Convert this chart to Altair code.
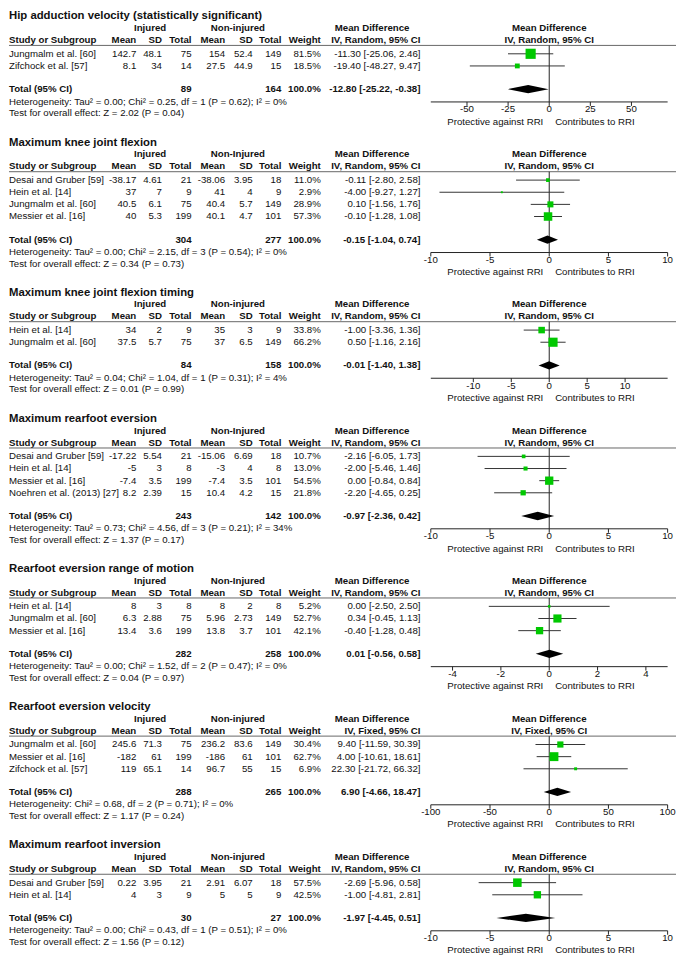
import altair as alt
import pandas as pd

# ---------------- data ----------------
titles = ["Hip adduction velocity (statistically significant)", "Maximum knee joint flexion",
          "Maximum knee joint flexion timing", "Maximum rearfoot eversion",
          "Rearfoot eversion range of motion", "Rearfoot eversion velocity", "Maximum rearfoot inversion"]
group2 = ["Non-injured", "Non-Injured", "Non-injured", "Non-Injured", "Non-Injured", "Non-injured", "Non-injured"]
methods = ["IV, Random, 95% CI"] * 5 + ["IV, Fixed, 95% CI", "IV, Random, 95% CI"]

studies = [
    ["Jungmalm et al. [60]", "Zifchock et al. [57]"],
    ["Desai and Gruber [59]", "Hein et al. [14]", "Jungmalm et al. [60]", "Messier et al. [16]"],
    ["Hein et al. [14]", "Jungmalm et al. [60]"],
    ["Desai and Gruber [59]", "Hein et al. [14]", "Messier et al. [16]", "Noehren et al. (2013) [27]"],
    ["Hein et al. [14]", "Jungmalm et al. [60]", "Messier et al. [16]"],
    ["Jungmalm et al. [60]", "Messier et al. [16]", "Zifchock et al. [57]"],
    ["Desai and Gruber [59]", "Hein et al. [14]"],
]
inj_mean = [[142.7, 8.1], [-38.17, 37, 40.5, 40], [34, 37.5], [-17.22, -5, -7.4, 8.2],
            [8, 6.3, 13.4], [245.6, -182, 119], [0.22, 4]]
inj_sd = [[48.1, 34], [4.61, 7, 6.1, 5.3], [2, 5.7], [5.54, 3, 3.5, 2.39],
          [3, 2.88, 3.6], [71.3, 61, 65.1], [3.95, 3]]
inj_n = [[75, 14], [21, 9, 75, 199], [9, 75], [21, 8, 199, 15], [8, 75, 199], [75, 199, 14], [21, 9]]
non_mean = [[154, 27.5], [-38.06, 41, 40.4, 40.1], [35, 37], [-15.06, -3, -7.4, 10.4],
            [8, 5.96, 13.8], [236.2, -186, 96.7], [2.91, 5]]
non_sd = [[52.4, 44.9], [3.95, 4, 5.7, 4.7], [3, 6.5], [6.69, 4, 3.5, 4.2],
          [2, 2.73, 3.7], [83.6, 61, 55], [6.07, 5]]
non_n = [[149, 15], [18, 9, 149, 101], [9, 149], [18, 8, 101, 15], [8, 149, 101], [149, 101, 15], [18, 9]]
weight = [[81.5, 18.5], [11.0, 2.9, 28.9, 57.3], [33.8, 66.2], [10.7, 13.0, 54.5, 21.8],
          [5.2, 52.7, 42.1], [30.4, 62.7, 6.9], [57.5, 42.5]]
md = [[-11.30, -19.40], [-0.11, -4.00, 0.10, -0.10], [-1.00, 0.50], [-2.16, -2.00, 0.00, -2.20],
      [0.00, 0.34, -0.40], [9.40, 4.00, 22.30], [-2.69, -1.00]]
ci_lo = [[-25.06, -48.27], [-2.80, -9.27, -1.56, -1.28], [-3.36, -1.16], [-6.05, -5.46, -0.84, -4.65],
         [-2.50, -0.45, -1.28], [-11.59, -10.61, -21.72], [-5.96, -4.81]]
ci_hi = [[2.46, 9.47], [2.58, 1.27, 1.76, 1.08], [1.36, 2.16], [1.73, 1.46, 0.84, 0.25],
         [2.50, 1.13, 0.48], [30.39, 18.61, 66.32], [0.58, 2.81]]
tot_inj = [89, 304, 84, 243, 282, 288, 30]
tot_non = [164, 277, 158, 142, 258, 265, 27]
tot_md = [-12.80, -0.15, -0.01, -0.97, 0.01, 6.90, -1.97]
tot_lo = [-25.22, -1.04, -1.40, -2.36, -0.56, -4.66, -4.45]
tot_hi = [-0.38, 0.74, 1.38, 0.42, 0.58, 18.47, 0.51]
heterogeneity = [
    "Heterogeneity: Tau² = 0.00; Chi² = 0.25, df = 1 (P = 0.62); I² = 0%",
    "Heterogeneity: Tau² = 0.00; Chi² = 2.15, df = 3 (P = 0.54); I² = 0%",
    "Heterogeneity: Tau² = 0.04; Chi² = 1.04, df = 1 (P = 0.31); I² = 4%",
    "Heterogeneity: Tau² = 0.73; Chi² = 4.56, df = 3 (P = 0.21); I² = 34%",
    "Heterogeneity: Tau² = 0.00; Chi² = 1.52, df = 2 (P = 0.47); I² = 0%",
    "Heterogeneity: Chi² = 0.68, df = 2 (P = 0.71); I² = 0%",
    "Heterogeneity: Tau² = 0.00; Chi² = 0.43, df = 1 (P = 0.51); I² = 0%",
]
overall = [
    "Test for overall effect: Z = 2.02 (P = 0.04)",
    "Test for overall effect: Z = 0.34 (P = 0.73)",
    "Test for overall effect: Z = 0.01 (P = 0.99)",
    "Test for overall effect: Z = 1.37 (P = 0.17)",
    "Test for overall effect: Z = 0.04 (P = 0.97)",
    "Test for overall effect: Z = 1.17 (P = 0.24)",
    "Test for overall effect: Z = 1.56 (P = 0.12)",
]
axis_ticks = [[-50, -25, 0, 25, 50], [-10, -5, 0, 5, 10], [-10, -5, 0, 5, 10], [-10, -5, 0, 5, 10],
              [-4, -2, 0, 2, 4], [-100, -50, 0, 50, 100], [-10, -5, 0, 5, 10]]
axis_limit = [72, 10, 15.6, 10, 4.9, 100, 10]
header2 = ["Mean", "SD", "Total", "Mean", "SD", "Total", "Weight"]

# ---------------- layout / style ----------------
FONT = "Liberation Sans, Arial, sans-serif"
FS = 9.8
TXT = "#111111"
GREEN = "#00c800"
W = 669
FX = [427.5, 667.5]
COL_X = [129, 155, 185, 219, 247, 276, 316, 417]
H1_X = [143, 232, 368]
TITLE_Y = 6
H1_Y, H2_Y, LINE_Y = TITLE_Y + 12, TITLE_Y + 24, TITLE_Y + 29.5
ROW0, PITCH = TITLE_Y + 38, 12.3
TOTAL_GAP, HET_GAP, TEST_GAP = 23.5, 12.6, 24.2
AXIS_GAP, TICK_LEN, TICKLBL_GAP, PROT_GAP = 13, 4, 20.5, 33
SEC_BASE = 102.8
LAST_H = 116


def fmt_ci(m, l, h):
    return f"{m:.2f} [{l:.2f}, {h:.2f}]"


def section(i, last=False):
    n = len(studies[i])
    h = LAST_H if last else SEC_BASE + PITCH * n
    rows = [ROW0 + PITCH * k for k in range(n)]
    ty = rows[-1] + TOTAL_GAP
    ay = ty + AXIS_GAP
    ysc = alt.Scale(domain=[0, h], range=[0, h], nice=False, zero=False)
    psc = alt.Scale(domain=[0, W], range=[0, W], nice=False, zero=False)
    lim = axis_limit[i]
    fsc = alt.Scale(domain=[-lim, lim], range=FX, nice=False, zero=False)

    def text_layer(recs, align, scale, bold=False, size=FS, dx=0):
        df = pd.DataFrame(recs, columns=["x", "y", "t"])
        return alt.Chart(df).mark_text(
            align=align, baseline="middle", font=FONT, fontSize=size,
            fontWeight="bold" if bold else "normal", color=TXT, dx=dx
        ).encode(
            x=alt.X("x:Q", scale=scale, axis=None),
            y=alt.Y("y:Q", scale=ysc, axis=None),
            text=alt.Text("t:N"),
        )

    layers = []
    layers.append(text_layer([(0, TITLE_Y, titles[i])], "left", psc, bold=True, size=11.5))
    layers.append(text_layer([(H1_X[0], H1_Y, "Injured"), (H1_X[1], H1_Y, group2[i]),
                              (H1_X[2], H1_Y, "Mean Difference")], "center", psc, bold=True))
    layers.append(text_layer([(0, H1_Y, "Mean Difference"), (0, H2_Y, methods[i])], "center", fsc, bold=True))
    layers.append(text_layer([(0, H2_Y, "Study or Subgroup"), (0, ty, "Total (95% CI)")], "left", psc, bold=True))
    bold_r = [(COL_X[c], H2_Y, header2[c]) for c in range(7)] + [(COL_X[7], H2_Y, methods[i])]
    bold_r += [(COL_X[2], ty, str(tot_inj[i])), (COL_X[5], ty, str(tot_non[i])),
               (COL_X[6], ty, "100.0%"), (COL_X[7], ty, fmt_ci(tot_md[i], tot_lo[i], tot_hi[i]))]
    layers.append(text_layer(bold_r, "right", psc, bold=True))
    cells = []
    names = []
    for k in range(n):
        y = rows[k]
        vals = [str(inj_mean[i][k]), str(inj_sd[i][k]), str(inj_n[i][k]),
                str(non_mean[i][k]), str(non_sd[i][k]), str(non_n[i][k]),
                f"{weight[i][k]:.1f}%", fmt_ci(md[i][k], ci_lo[i][k], ci_hi[i][k])]
        cells += [(COL_X[c], y, v) for c, v in enumerate(vals)]
        names.append((0, y, studies[i][k]))
    layers.append(text_layer(cells, "right", psc))
    names += [(0, ty + HET_GAP, heterogeneity[i]), (0, ty + TEST_GAP, overall[i])]
    layers.append(text_layer(names, "left", psc))
    layers.append(text_layer([(t, ty + TICKLBL_GAP, str(t)) for t in axis_ticks[i]], "center", fsc))
    layers.append(text_layer([(0, ty + PROT_GAP, "Protective against RRI")], "right", fsc, dx=-6))
    layers.append(text_layer([(0, ty + PROT_GAP, "Contributes to RRI")], "left", fsc, dx=6))

    # header rule
    hl = pd.DataFrame({"x": [0], "x2": [W + 7], "y": [LINE_Y]})
    layers.append(alt.Chart(hl).mark_rule(color="#666666", strokeWidth=1).encode(
        x=alt.X("x:Q", scale=psc, axis=None), x2="x2:Q", y=alt.Y("y:Q", scale=ysc, axis=None)))
    # zero line
    zl = pd.DataFrame({"x": [0], "y": [LINE_Y], "y2": [ay]})
    layers.append(alt.Chart(zl).mark_rule(color="#222222", strokeWidth=1).encode(
        x=alt.X("x:Q", scale=fsc, axis=None), y=alt.Y("y:Q", scale=ysc, axis=None), y2="y2:Q"))
    # axis line
    al = pd.DataFrame({"x": [-lim], "x2": [lim], "y": [ay]})
    layers.append(alt.Chart(al).mark_rule(color="#222222", strokeWidth=1).encode(
        x=alt.X("x:Q", scale=fsc, axis=None), x2="x2:Q", y=alt.Y("y:Q", scale=ysc, axis=None)))
    # ticks
    tk = pd.DataFrame({"x": axis_ticks[i], "y": [ay] * 5, "y2": [ay + TICK_LEN] * 5})
    layers.append(alt.Chart(tk).mark_rule(color="#222222", strokeWidth=1).encode(
        x=alt.X("x:Q", scale=fsc, axis=None), y=alt.Y("y:Q", scale=ysc, axis=None), y2="y2:Q"))
    # CI lines
    ci = pd.DataFrame({"lo": ci_lo[i], "hi": ci_hi[i], "y": rows})
    layers.append(alt.Chart(ci).mark_rule(color="#333333", strokeWidth=1).encode(
        x=alt.X("lo:Q", scale=fsc, axis=None), x2="hi:Q", y=alt.Y("y:Q", scale=ysc, axis=None)))
    # squares (area proportional to weight)
    sq = pd.DataFrame({"md": md[i], "y": rows, "s": [w * 1.3 for w in weight[i]]})
    layers.append(alt.Chart(sq).mark_square(color=GREEN, filled=True, opacity=1).encode(
        x=alt.X("md:Q", scale=fsc, axis=None), y=alt.Y("y:Q", scale=ysc, axis=None),
        size=alt.Size("s:Q", scale=None)))
    # diamond
    dm = pd.DataFrame({"x": [tot_lo[i], tot_md[i], tot_hi[i]],
                       "y": [ty, ty - 4.2, ty], "y2": [ty, ty + 4.2, ty]})
    layers.append(alt.Chart(dm).mark_area(color="black", orient="vertical", opacity=1).encode(
        x=alt.X("x:Q", scale=fsc, axis=None), y=alt.Y("y:Q", scale=ysc, axis=None), y2="y2:Q"))

    return alt.layer(*layers).resolve_scale(x="independent").properties(width=W, height=h)


secs = [section(i, last=(i == len(titles) - 1)) for i in range(len(titles))]
chart = alt.vconcat(*secs, spacing=0, bounds="flush").properties(
    padding={"left": 0, "top": -4, "right": 0, "bottom": 0},
    autosize=alt.AutoSizeParams(type="pad"),
).configure_view(stroke=None)
chart.save("out.html", embed_options={"renderer": "svg", "actions": False})
